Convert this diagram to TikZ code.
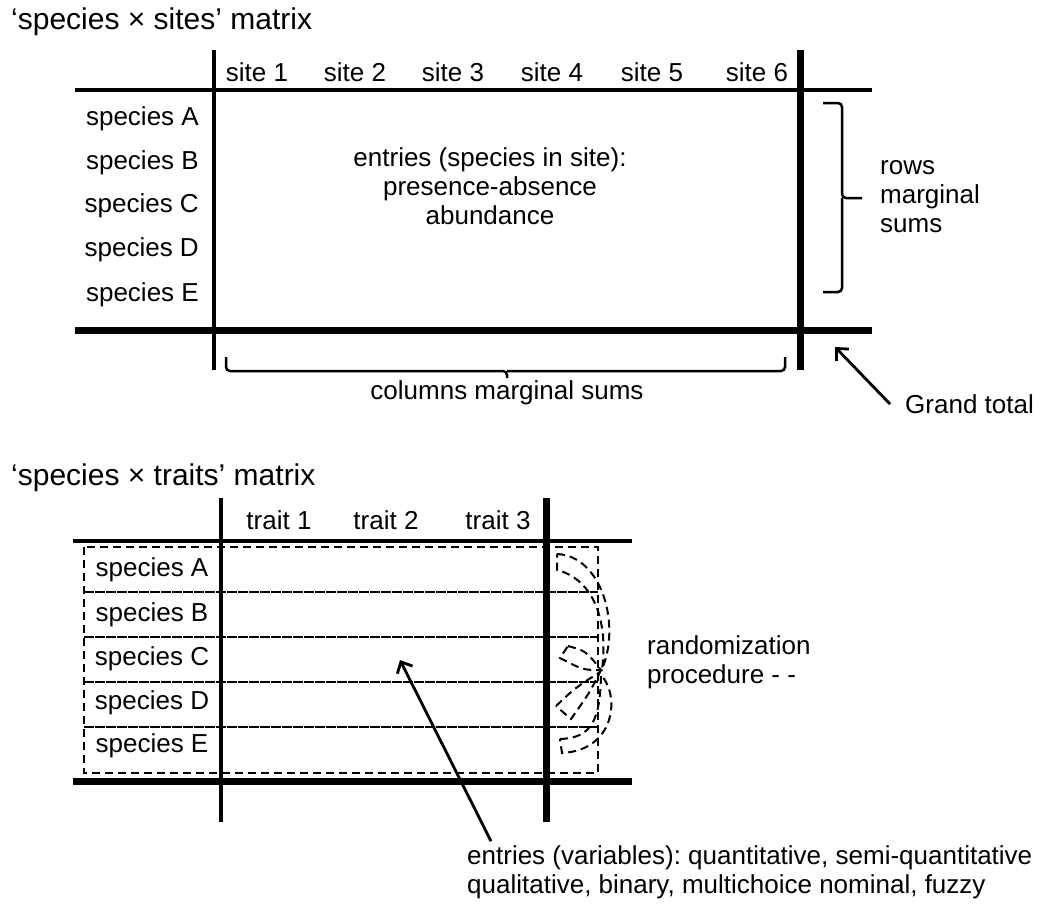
\documentclass[tikz,border=0pt]{standalone}
\usepackage{fontspec}
\setmainfont{Liberation Sans}
\usetikzlibrary{arrows.meta}
\frenchspacing
\begin{document}
\begin{tikzpicture}[x=1pt, y=-1pt,
  every node/.style={font=\fontsize{26}{29}\selectfont, inner sep=0pt},
  ttl/.style={font=\fontsize{30}{34}\selectfont, anchor=west},
  thinrule/.style={line width=3.2pt},
  thickrule/.style={line width=7pt},
  dashrule/.style={line width=2pt, dash pattern=on 8pt off 5pt},
  seprule/.style={line width=2.5pt, dash pattern=on 10pt off 1pt},
  brace/.style={line width=2.5pt, rounded corners=4pt},
  pointer/.style={line width=2.8pt, -{Straight Barb[length=9pt, width=17pt]}}]
\useasboundingbox (0,0) rectangle (1040,906);

% species x sites
\node[ttl] (ttlSites) at (11,22) {‘species × sites’ matrix};
\draw[thinrule] (75,90) -- (872,90);
\draw[thinrule] (214,50) -- (214,370);
\draw[thickrule] (800,50) -- (800,370);
\draw[thickrule] (75,330) -- (872,330);
\foreach \x/\i in {257/1,355/2,453/3,552/4,652/5,757/6}
  \node (site\i) at (\x,72) {site \i};
\foreach \y/\s in {119/A,163/B,206/C,250/D,295/E}
  \node[anchor=east] (rowS\s) at (199,\y) {species \s};
\node[align=center] (cellS) at (490,186) {entries (species in site):\\presence-absence\\abundance};
\draw[brace] (823,103) -| (842,198) -- (862,198);
\draw[brace] (823,292) -| (842,198);
\node[anchor=west, align=left] (rowSums) at (880,197) {rows\\marginal\\sums};
\draw[brace] (226,357) |- (507,371) -- (507,378);
\draw[brace] (785,357) |- (507,371);
\node (colSums) at (507,393) {columns marginal sums};
\node[anchor=west] (grand) at (905,404) {Grand total};
\coordinate (gtTip) at (835,347);
\draw[pointer] ([xshift=-15pt]grand.west) -- (gtTip);

% species x traits
\node[ttl] (ttlTraits) at (11,478) {‘species × traits’ matrix};
\draw[thinrule] (73,541) -- (632,541);
\draw[thinrule] (221,498) -- (221,822);
\draw[thickrule] (546,498) -- (546,822);
\draw[thickrule] (73,781) -- (632,781);
\draw[dashrule] (84,547) rectangle (598,773);
\foreach \y in {592,637,682,727}
  \draw[seprule] (84,\y) -- (598,\y);
\foreach \x/\i in {279/1,386/2,498/3}
  \node (trait\i) at (\x,520) {trait \i};
\foreach \y/\s in {570/A,615/B,659/C,703/D,746/E}
  \node (rowT\s) at (152,\y) {species \s};
% swapping of rows
\draw[dashrule] (557,554) .. controls (602,556) and (621,625) .. (602,669)
  .. controls (608,625) and (596,580) .. (557,570) -- cycle;
\draw[dashrule] (568,646) .. controls (586,651) .. (601,670)
  .. controls (583,670) .. (560,658) -- cycle;
\draw[dashrule] (556,706) .. controls (575,688) .. (600,672)
  .. controls (590,692) .. (571,719) -- cycle;
\draw[dashrule] (560,739) .. controls (592,738) and (600,720) .. (601,675)
  .. controls (620,695) and (616,750) .. (562,753) -- cycle;
\node[anchor=west, align=left] (randText) at (647,662) {randomization\\procedure - -};
\node[anchor=west, align=left] (entT) at (467,872) {entries (variables): quantitative, semi-quantitative\\qualitative, binary, multichoice nominal, fuzzy};
\coordinate (entTip) at (400,660);
\draw[pointer] ([xshift=24pt,yshift=4pt]entT.north west) -- (entTip);
\end{tikzpicture}
\end{document}
